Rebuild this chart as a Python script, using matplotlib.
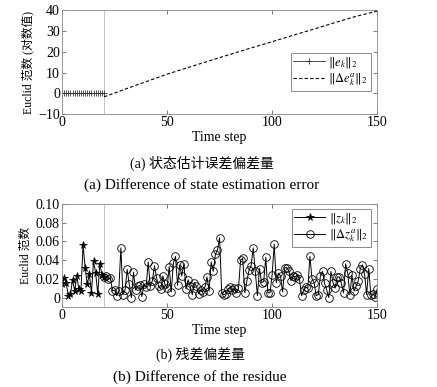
import matplotlib.pyplot as plt
import numpy as np

plt.rcParams['font.family'] = ['Liberation Serif', 'Noto Sans CJK SC']
plt.rcParams['mathtext.fontset'] = 'stix'

# (a) norms of state estimation error
t_e = list(range(0, 21))
e_norm = [0] * 21
t_de = [20, 30, 40, 50, 60, 70, 80, 90, 100, 110, 120, 130, 140, 150]
de_norm = [-1.7, 2.0, 5.6, 9.2, 12.4, 15.6, 18.7, 21.8, 24.8, 27.9, 30.9, 34.0, 37.0, 39.5]

# (b) residue norms
t_z = list(range(0, 21))
z_norm = [0.014, 0.021, 0.015, 0.002, 0.004, 0.019, 0.007, 0.023, 0.009, 0.007,
          0.056, 0.032, 0.014, 0.025, 0.005, 0.039, 0.026, 0.004, 0.036, 0.024, 0.022]
t_dz = list(range(20, 151))
dz_norm = [0.022, 0.023, 0.020, 0.021, 0.007, 0.008, 0.002, 0.007, 0.053, 0.003,
           0.008, 0.030, 0.014, 0.000, 0.027, 0.008, 0.012, 0.013, 0.001, 0.014,
           0.011, 0.038, 0.012, 0.018, 0.034, 0.021, 0.012, 0.009, 0.023, 0.014,
           0.010, 0.033, 0.006, 0.037, 0.044, 0.013, 0.035, 0.023, 0.036, 0.009,
           0.019, 0.012, 0.003, 0.016, 0.012, 0.004, 0.008, 0.006, 0.011, 0.022,
           0.007, 0.038, 0.028, 0.046, 0.051, 0.064, 0.005, 0.003, 0.004, 0.009,
           0.011, 0.008, 0.010, 0.005, 0.010, 0.040, 0.042, 0.005, 0.018, 0.029,
           0.034, 0.053, 0.028, 0.002, 0.031, 0.016, 0.017, 0.043, 0.005, 0.005,
           0.024, 0.057, 0.016, 0.026, 0.023, 0.006, 0.032, 0.032, 0.028, 0.018,
           0.023, 0.022, 0.024, 0.020, 0.002, 0.008, 0.011, 0.010, 0.044, 0.020,
           0.016, 0.002, 0.003, 0.023, 0.028, 0.015, 0.008, 0.000, 0.028, 0.016,
           0.010, 0.022, 0.022, 0.015, 0.005, 0.036, 0.026, 0.003, 0.024, 0.007,
           0.012, 0.018, 0.031, 0.035, 0.025, 0.003, 0.031, 0.003, 0.004, 0.001,
           0.009]

fig = plt.figure(figsize=(4.37, 3.87), dpi=100)
ax1 = fig.add_axes([0.142, 0.705, 0.721, 0.269])
ax2 = fig.add_axes([0.142, 0.207, 0.721, 0.266])

fs = 10
lfs = 9
cfs = 11
for ax in (ax1, ax2):
    ax.tick_params(direction='in', top=True, right=True, labelsize=fs,
                   length=3, width=0.5, colors='#444444', labelcolor='black', pad=1.5)
    for s in ax.spines.values():
        s.set_color('#888888')
        s.set_linewidth(0.6)
    ax.axvline(20, color='#bbbbbb', lw=0.6)
    ax.set_xlim(0, 150)
    ax.set_xticks([0, 50, 100, 150])
    ax.set_xlabel('Time step', fontsize=fs, labelpad=1.5)

ax1.plot(t_e, e_norm, color='#333333', lw=0.6, marker='+', ms=5, mew=0.6,
         label=r'$\|e_k\|_2$')
ax1.plot(t_de, de_norm, color='black', lw=0.8, ls=(0, (3, 2)),
         label=r'$\|\Delta e_k^a\|_2$')
ax1.set_ylim(-10, 40)
ax1.set_yticks([-10, 0, 10, 20, 30, 40])
ax1.set_ylabel('Euclid 范数 (对数值)', fontsize=8.5, labelpad=3)
ax1.legend(loc='upper right', bbox_to_anchor=(0.98, 0.59), fontsize=lfs,
           frameon=True, fancybox=False, edgecolor='#555555', borderpad=0.2,
           labelspacing=0.1, handlelength=2.5, handletextpad=0.3,
           borderaxespad=0).get_frame().set_linewidth(0.6)

ax2.plot(t_z, z_norm, color='black', lw=0.7, marker='*', ms=5.5, mew=0.5,
         label=r'$\|z_k\|_2$')
ax2.plot(t_dz, dz_norm, color='black', lw=0.7, marker='o', ms=5.5, mew=0.6,
         mfc='none', label=r'$\|\Delta z_k^a\|_2$')
ax2.set_ylim(-0.01, 0.10)
ax2.set_yticks([0, 0.02, 0.04, 0.06, 0.08, 0.10])
ax2.set_yticklabels(['0', '0.02', '0.04', '0.06', '0.08', '0.10'])
ax2.set_ylabel('Euclid 范数', fontsize=8.5, labelpad=3)
ax2.legend(loc='upper right', bbox_to_anchor=(0.98, 0.955), fontsize=lfs,
           frameon=True, fancybox=False, edgecolor='#555555', borderpad=0.2,
           labelspacing=0.1, handlelength=2.5, handletextpad=0.3,
           borderaxespad=0).get_frame().set_linewidth(0.6)

fig.text(0.462, 1 - 163 / 387, '(a) 状态估计误差偏差量', ha='center', va='center', fontsize=10)
fig.text(0.462, 1 - 185 / 387, '(a) Difference of state estimation error', ha='center', va='center', fontsize=cfs)
fig.text(0.458, 1 - 354 / 387, '(b) 残差偏差量', ha='center', va='center', fontsize=10)
fig.text(0.458, 1 - 377 / 387, '(b) Difference of the residue', ha='center', va='center', fontsize=cfs)

fig.savefig('out.png', dpi=100)
